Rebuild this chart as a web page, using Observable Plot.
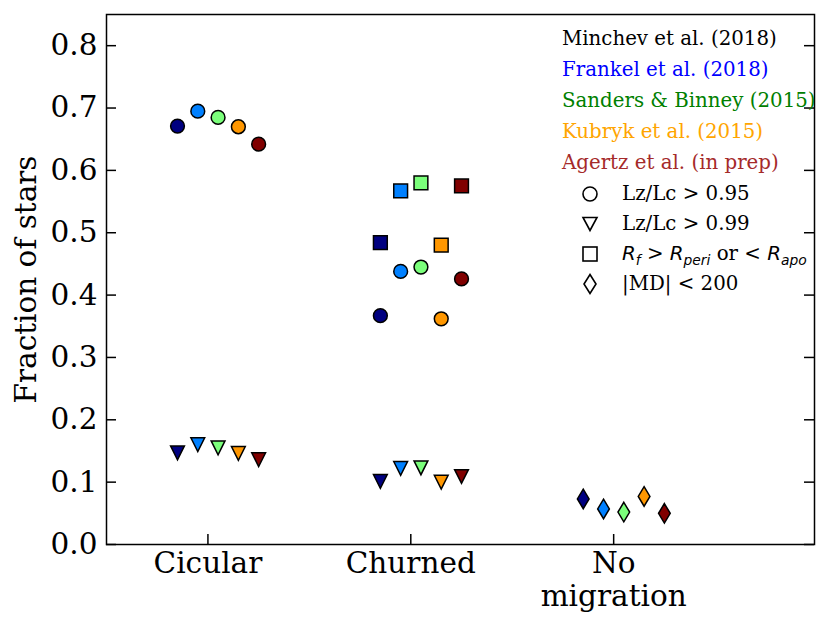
<!DOCTYPE html>
<html>
<head>
<meta charset="utf-8">
<script src="https://cdn.jsdelivr.net/npm/d3@7"></script>
<script src="https://cdn.jsdelivr.net/npm/@observablehq/plot@0.6"></script>
<style>
  html, body { margin: 0; padding: 0; background: white; }
  #wrap { position: relative; width: 831px; height: 627px; font-family: "DejaVu Serif", serif; }
  #legend { position: absolute; left: 562px; top: 23px; font-size: 19.8px; line-height: 31px; white-space: nowrap; }
  #legend .row { height: 31px; }
  #mlegend { position: absolute; left: 580px; top: 179px; font-size: 19.8px; white-space: nowrap; }
  #mlegend .row { height: 30px; position: relative; }
  #mlegend svg { position: absolute; left: 0; top: 5px; }
  #mlegend span.t { position: absolute; left: 42px; top: 3px; line-height: 24px; }
  .ms { font-family: "DejaVu Sans", sans-serif; font-style: italic; }
  sub { font-size: 0.7em; vertical-align: -0.35em; }
</style>
</head>
<body>
<div id="wrap"></div>
<script>
// ---- data ----
const categories = ["Cicular", "Churned", "No\nmigration"];
const studies = ["Minchev et al. (2018)", "Frankel et al. (2018)", "Sanders & Binney (2015)", "Kubryk et al. (2015)", "Agertz et al. (in prep)"];
const pointColors = ["#000080", "#0080ff", "#7bff7b", "#ff9700", "#800000"];
const labelColors = ["#000000", "#0000ff", "#008000", "#ffa500", "#a52a2a"];
const offsets = [-0.15, -0.05, 0.05, 0.15, 0.25];
const yTicks = [0, 0.1, 0.2, 0.3, 0.4, 0.5, 0.6, 0.7, 0.8];

// Lz/Lc > 0.95 (circles)
const circCicular = [0.671, 0.695, 0.685, 0.670, 0.642];
const circChurned = [0.367, 0.438, 0.445, 0.362, 0.426];
// Lz/Lc > 0.99 (down triangles)
const triCicular = [0.147, 0.160, 0.155, 0.146, 0.136];
const triChurned = [0.101, 0.122, 0.123, 0.100, 0.109];
// R_f > R_peri or < R_apo (squares)
const sqChurned = [0.484, 0.567, 0.580, 0.480, 0.575];
// |MD| < 200 (thin diamonds)
const diaNoMig = [0.073, 0.057, 0.052, 0.077, 0.050];

// ---- custom symbols (matplotlib-like) ----
const triDown = {draw(ctx, size) { const r = Math.sqrt(size / Math.PI); ctx.moveTo(-r, -r); ctx.lineTo(r, -r); ctx.lineTo(0, r); ctx.closePath(); }};
const square = {draw(ctx, size) { const r = Math.sqrt(size / Math.PI); ctx.rect(-r, -r, 2 * r, 2 * r); }};
const thinDiamond = {draw(ctx, size) { const r = Math.sqrt(size / Math.PI) * Math.SQRT2; const w = 0.6 * r; ctx.moveTo(0, -r); ctx.lineTo(w, 0); ctx.lineTo(0, r); ctx.lineTo(-w, 0); ctx.closePath(); }};

function rows(values, cat) {
  return values.map((v, i) => ({x: cat + offsets[i], y: v, color: pointColors[i]}));
}
const circles = [...rows(circCicular, 0), ...rows(circChurned, 1)];
const triangles = [...rows(triCicular, 0), ...rows(triChurned, 1)];
const squares = rows(sqChurned, 1);
const diamonds = rows(diaNoMig, 2);

const W = 831, H = 627, mL = 106, mR = 17, mT = 14, mB = 83;
const fw = W - mL - mR, fh = H - mT - mB;
const dotOpts = {x: "x", y: "y", fill: "color", stroke: "black", strokeWidth: 1.5, r: 6.9};

const chart = Plot.plot({
  width: W, height: H,
  marginLeft: mL, marginRight: mR, marginTop: mT, marginBottom: mB,
  style: {fontFamily: "DejaVu Serif", fontSize: "29.5px", background: "white", color: "black"},
  x: {type: "linear", domain: [-0.5, 2.99]},
  y: {domain: [0, 0.85]},
  marks: [
    Plot.axisY({ticks: yTicks, tickFormat: d => d.toFixed(1), tickSize: 0, tickPadding: 9, fontSize: 29.5,
      label: "Fraction of stars", labelAnchor: "center", labelOffset: 91, labelArrow: "none"}),
    Plot.axisX({ticks: [0, 1, 2], tickFormat: i => categories[i], tickSize: 0, tickPadding: 5, fontSize: 29.5, lineHeight: 1.12, label: null}),
    Plot.tickY(yTicks, {y: d => d, stroke: "black", strokeWidth: 1.5, insetRight: fw - 10}),
    Plot.tickY(yTicks, {y: d => d, stroke: "black", strokeWidth: 1.5, insetLeft: fw - 10}),
    Plot.tickX([0, 1, 2], {x: d => d, stroke: "black", strokeWidth: 1.5, insetTop: fh - 10}),
    Plot.frame({stroke: "black", strokeWidth: 1.5}),
    Plot.dot(circles, {...dotOpts, symbol: "circle"}),
    Plot.dot(triangles, {...dotOpts, symbol: triDown}),
    Plot.dot(squares, {...dotOpts, symbol: square}),
    Plot.dot(diamonds, {...dotOpts, symbol: thinDiamond})
  ]
});

const wrap = document.getElementById("wrap");
wrap.appendChild(chart);

// study legend (text colored)
const leg = document.createElement("div");
leg.id = "legend";
studies.forEach((s, i) => {
  const d = document.createElement("div");
  d.className = "row";
  d.style.color = labelColors[i];
  d.textContent = s;
  leg.appendChild(d);
});
wrap.appendChild(leg);

// marker legend
const markerLabels = [
  "Lz/Lc &gt; 0.95",
  "Lz/Lc &gt; 0.99",
  '<span class="ms">R</span><sub class="ms">f</sub> &gt; <span class="ms">R</span><sub class="ms">peri</sub> or &lt; <span class="ms">R</span><sub class="ms">apo</sub>',
  "|MD| &lt; 200"
];
const glyphs = [
  '<circle cx="10" cy="10" r="7" />',
  '<path d="M3,3.5 L17,3.5 L10,16.5 Z" />',
  '<rect x="3" y="3" width="14" height="14" />',
  '<path d="M10,0.5 L16,10 L10,19.5 L4,10 Z" />'
];
const ml = document.createElement("div");
ml.id = "mlegend";
markerLabels.forEach((t, i) => {
  const d = document.createElement("div");
  d.className = "row";
  d.innerHTML = `<svg width="20" height="20" viewBox="0 0 20 20" style="overflow:visible"><g fill="white" stroke="black" stroke-width="1.6">${glyphs[i]}</g></svg><span class="t">${t}</span>`;
  ml.appendChild(d);
});
wrap.appendChild(ml);
</script>
</body>
</html>
